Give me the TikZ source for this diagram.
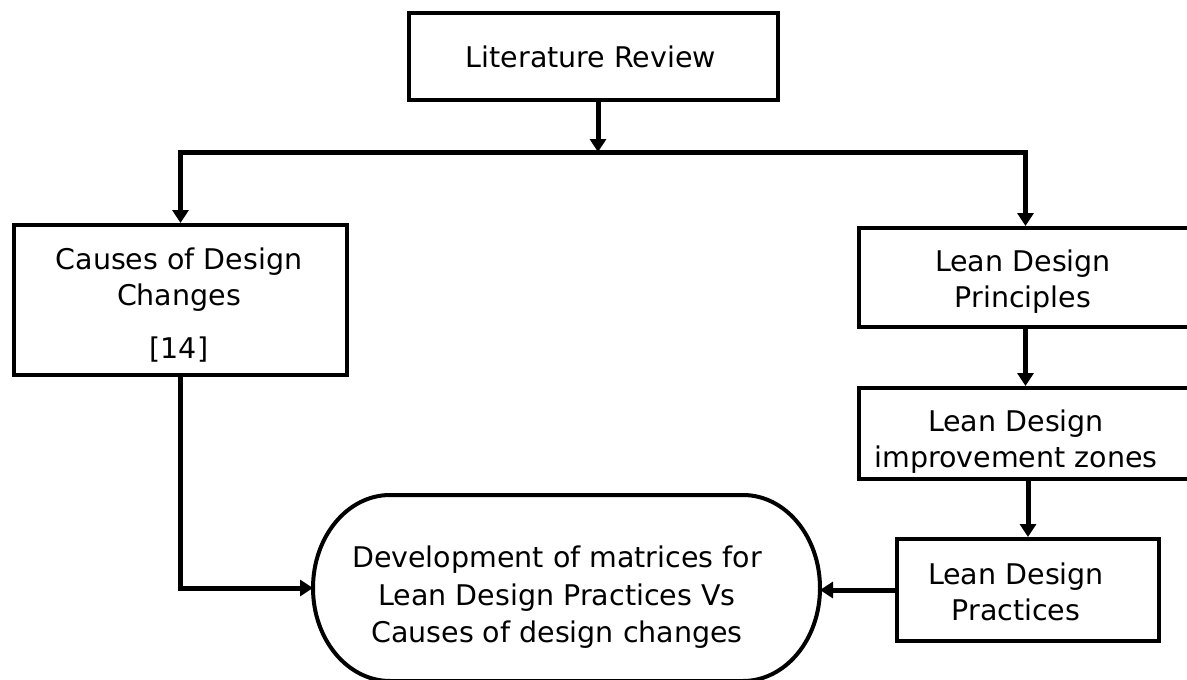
\documentclass[tikz,border=0pt]{standalone}
\usepackage{fontspec}
\setmainfont{DejaVu Sans}
\usetikzlibrary{arrows.meta}
\tikzset{
  boxnode/.style={draw, line width=4pt, rectangle, inner sep=0pt, anchor=north west},
  shapenode/.style={rectangle, inner sep=0pt, outer sep=0pt, anchor=north west},
  txt/.style={align=center, inner sep=0pt, font=\fontsize{28.5}{36}\selectfont},
  conn/.style={line width=5pt, line join=miter},
  arr/.style={conn, -{Triangle[length=13pt,width=16pt]}},
}
\begin{document}
\begin{tikzpicture}[x=1pt, y=-1pt]
\useasboundingbox (0,0) rectangle (1187,680);
\clip (0,0) rectangle (1187,680);
\fill[white] (0,0) rectangle (1187,680);

% boxes
\node[boxnode, minimum width=369pt, minimum height=87pt] (lr) at (407,11) {};
\node[boxnode, minimum width=333pt, minimum height=150pt] (causes) at (12,223) {};
\node[boxnode, minimum width=333pt, minimum height=99pt] (ldp) at (857,226) {};
\node[boxnode, minimum width=333pt, minimum height=91pt] (ldiz) at (857,386) {};
\node[boxnode, minimum width=262pt, minimum height=102pt] (ldpr) at (895,537) {};
\node[shapenode, minimum width=507pt, minimum height=186pt] (dev) at (313,495) {};
\draw[line width=4pt] ([xshift=77pt]dev.north west) -- ([xshift=-77pt]dev.north east)
  arc[start angle=-90, end angle=90, x radius=77, y radius=93]
  -- ([xshift=77pt]dev.south west)
  arc[start angle=90, end angle=270, x radius=77, y radius=93] -- cycle;

% connectors
\coordinate (split) at (598,152);
\draw[arr] (lr.south -| split) -- (split);
\draw[arr] (split) -| (causes.north);
\draw[arr] (split) -| (ldp.north);
\draw[arr] (ldp.south) -- (ldiz.north);
\draw[arr] (ldpr.north |- ldiz.south) -- (ldpr.north);
\draw[arr] (ldpr.west) -- (ldpr.west -| dev.east);
\draw[arr] (causes.south) |- (dev.west);

% texts
\node[txt, anchor=base] (lr-t) at (591,67) {Literature Review};
\node[txt, anchor=north] (causes-t) at (179,248) {Causes of Design\\Changes\\[17pt][14]};
\node[txt, anchor=north] (ldp-t) at (1023,250) {Lean Design\\Principles};
\node[txt, anchor=north] (ldiz-t) at (1016,410) {Lean Design\\improvement zones};
\node[txt, anchor=north] (ldpr-t) at (1016,563) {Lean Design\\Practices};
\node[txt, anchor=north, font=\fontsize{28.5}{37.5}\selectfont] (dev-t) at (557,546) {Development of matrices for\\Lean Design Practices Vs\\Causes of design changes};
\end{tikzpicture}
\end{document}
